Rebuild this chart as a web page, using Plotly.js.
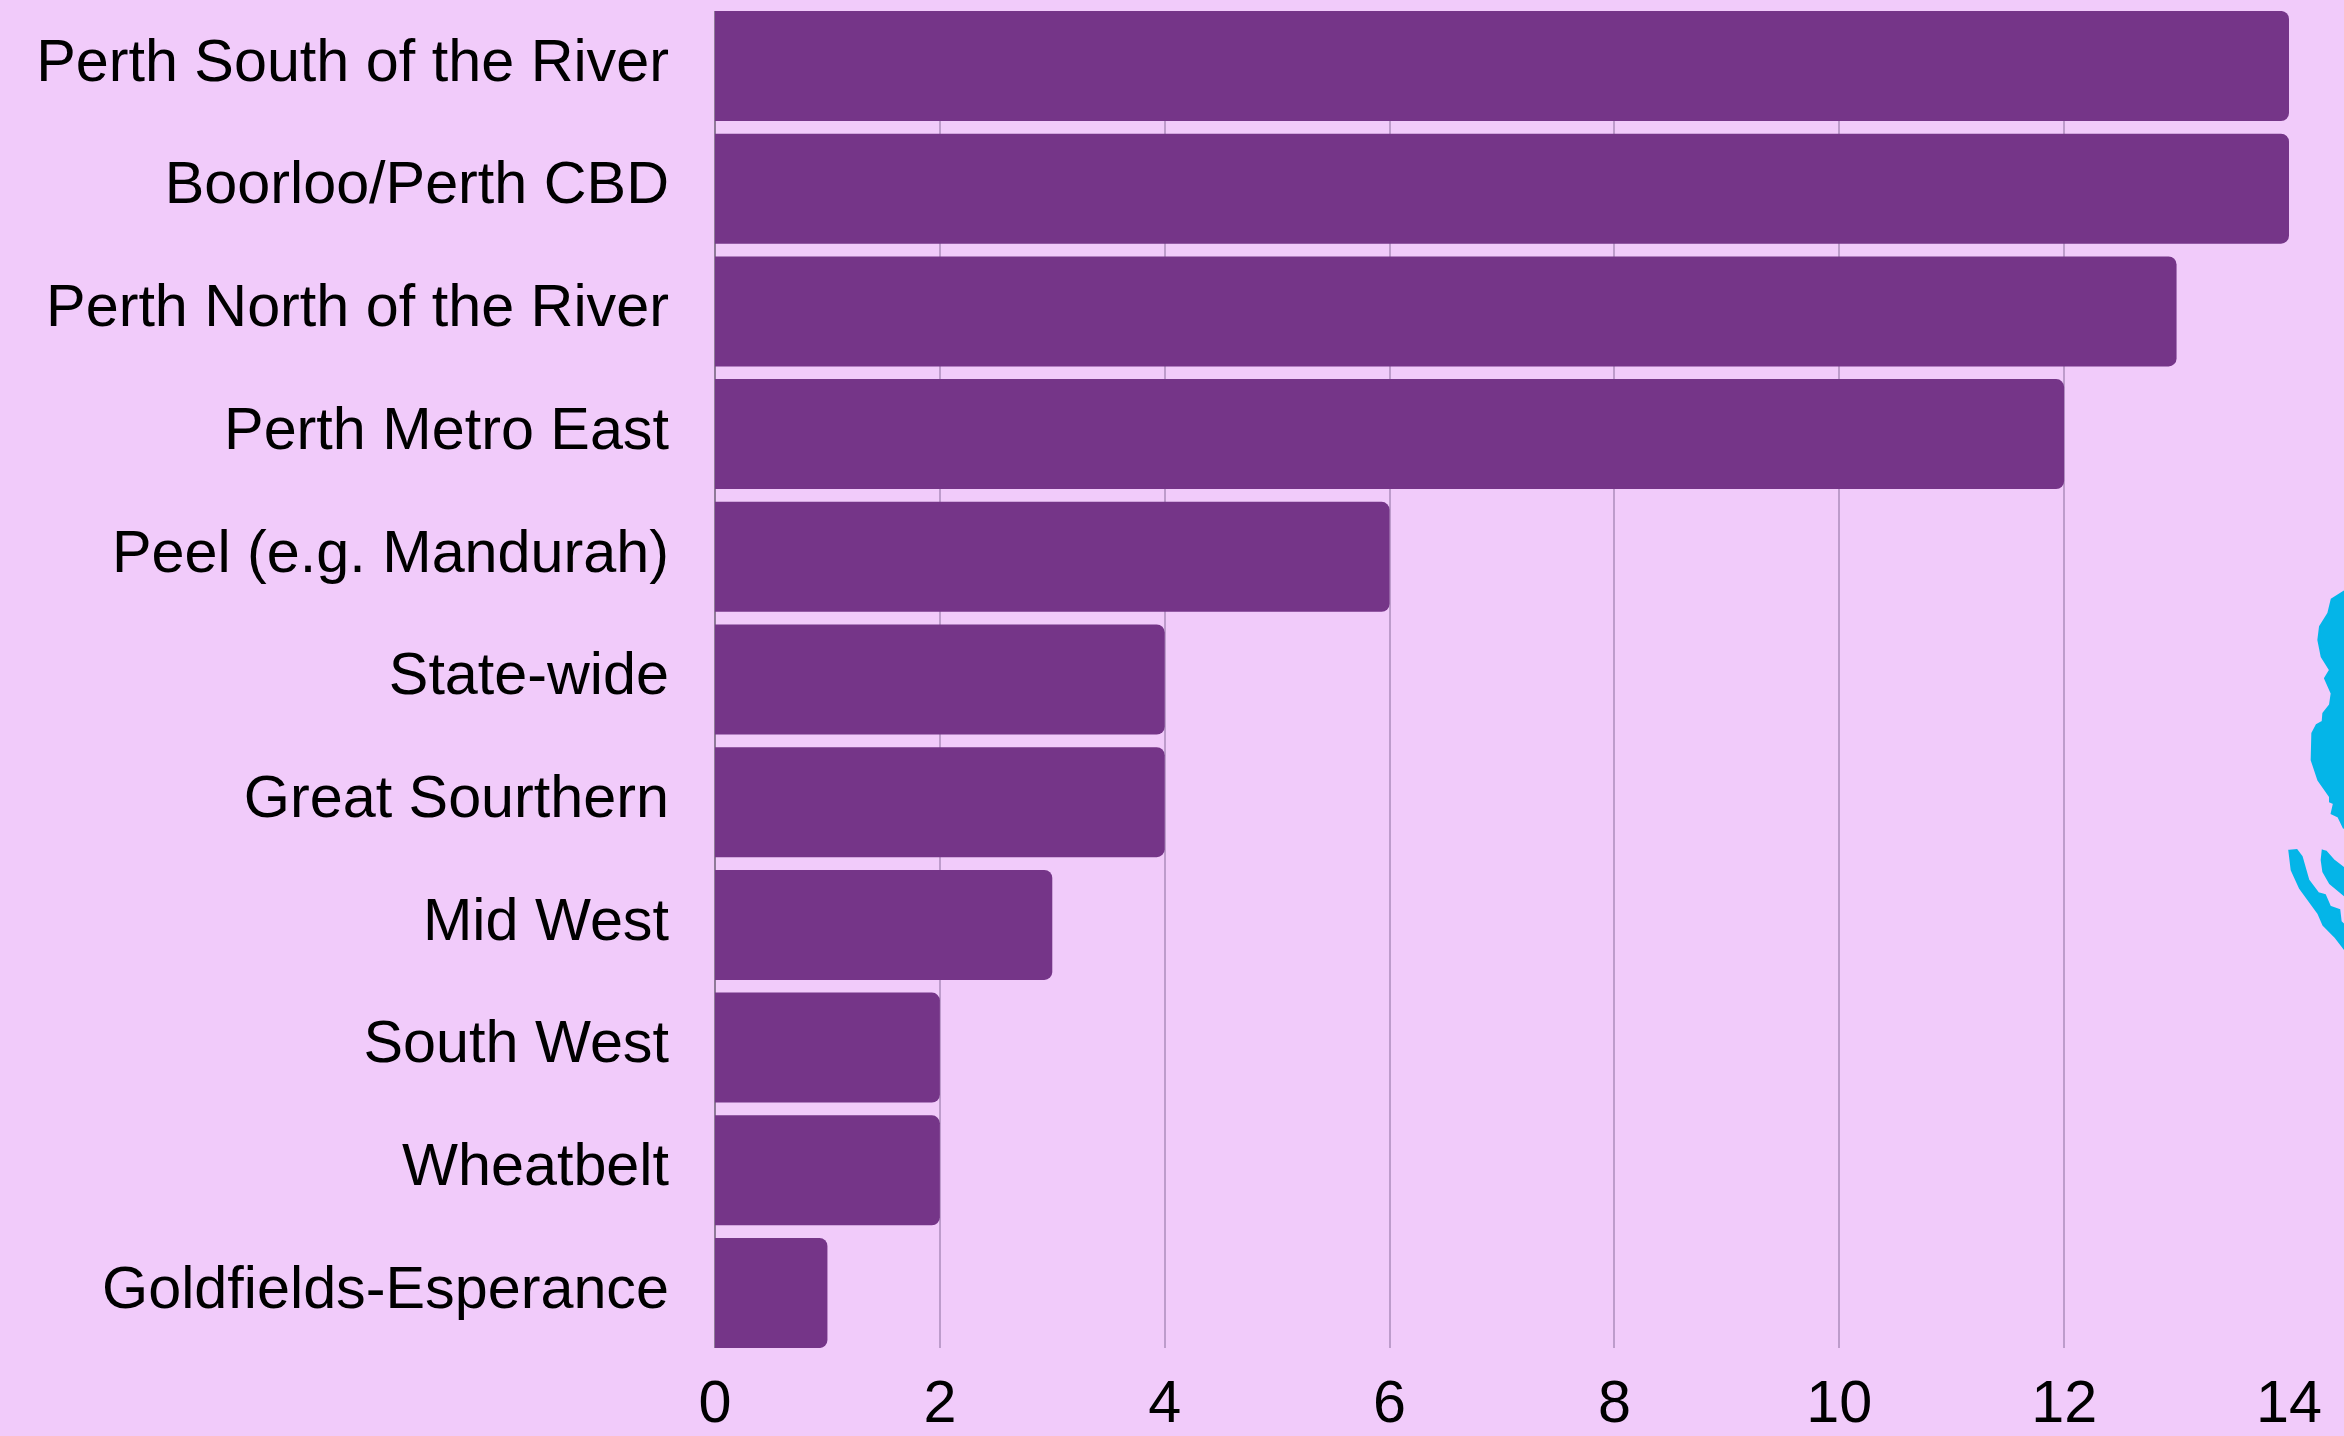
<!DOCTYPE html>
<html>
<head>
<meta charset="utf-8">
<script src="https://cdn.plot.ly/plotly-3.0.1.min.js"></script>
<style>html,body{margin:0;padding:0;background:#f1cbfa;overflow:hidden}#chart{width:2344px;height:1436px}</style>
</head>
<body>
<div id="chart"></div>
<script>
const categories = ["Perth South of the River","Boorloo/Perth CBD","Perth North of the River","Perth Metro East","Peel (e.g. Mandurah)","State-wide","Great Sourthern","Mid West","South West","Wheatbelt","Goldfields-Esperance"];
const values = [14,14,13,12,6,4,4,3,2,2,1];
const xTicks = [0,2,4,6,8,10,12,14];
const bgColor = "#f1cbfa";
const barColor = "#753588";

// Decorative blue map fragments at the right edge (zoom-crop coordinates of the reference)
const blobA = [[282,95],[245,118],[235,160],[210,200],[205,240],[215,290],[240,330],[225,355],[245,400],[240,435],[220,460],[218,485],[200,495],[187,520],[185,600],[205,660],[240,710],[240,725],[252,730],[245,760],[265,770],[282,805]];
const blobB = [[218,872],[228,875],[250,900],[282,925],[282,1005],[240,970],[220,935],[215,900]];
const blobC = [[118,872],[140,870],[155,890],[175,960],[205,1000],[225,1005],[240,1040],[268,1050],[272,1085],[282,1095],[282,1165],[255,1130],[220,1095],[205,1060],[150,985],[125,930]];

const L=715,R=2289,T=11,B=1348;
function toPath(pts){
  return pts.map((p,i)=>{
    const px=2250+p[0]/3, py=560+p[1]/3;
    return (i?"L":"M")+((px-L)/(R-L)).toFixed(5)+","+((B-py)/(B-T)).toFixed(5);
  }).join(" ")+" Z";
}
const blobs=[blobA,blobB,blobC].map(b=>({type:"path",xref:"paper",yref:"paper",path:toPath(b),fillcolor:"#04b5e8",line:{width:2,color:"#04b5e8"},layer:"above"}));

const font={family:"'Liberation Sans', Arial, sans-serif",size:59.3,color:"#000"};
Plotly.newPlot("chart",[{
  type:"bar",orientation:"h",x:values,y:categories,width:0.8965,
  marker:{color:barColor,line:{width:0}},hoverinfo:"x+y"
}],{
  width:2344,height:1436,
  margin:{l:L,r:2344-R,t:T,b:1436-B,pad:0},
  paper_bgcolor:bgColor,plot_bgcolor:bgColor,
  barcornerradius:8,showlegend:false,
  xaxis:{range:[0,14],tickvals:xTicks,ticktext:xTicks.map(String),tickfont:font,
    showgrid:true,gridcolor:"#bd9ccb",gridwidth:2,zeroline:true,zerolinecolor:"#8f7a98",zerolinewidth:2,
    showline:false,ticks:"",ticklabelstandoff:14,automargin:false,fixedrange:true},
  yaxis:{type:"category",categoryorder:"array",categoryarray:categories,range:[10.448,-0.448],
    tickfont:font,showgrid:false,zeroline:false,showline:false,ticks:"",ticklabelstandoff:45,ticklabelshift:6,automargin:false,fixedrange:true},
  shapes:blobs
},{displayModeBar:false,responsive:false});
</script>
</body>
</html>
